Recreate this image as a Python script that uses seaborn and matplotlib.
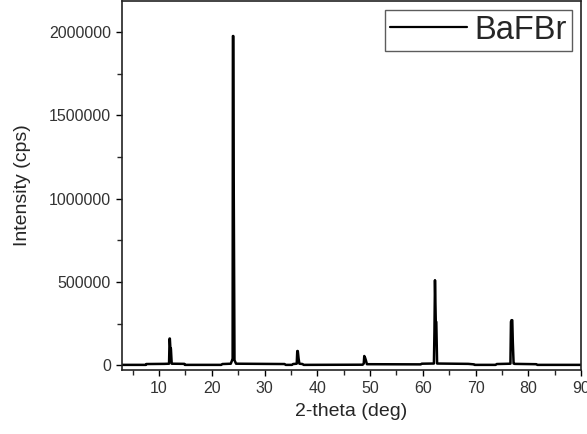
import matplotlib
matplotlib.use("Agg")
import matplotlib.pyplot as plt
import numpy as np
import pandas as pd
import seaborn as sns
from matplotlib.ticker import MultipleLocator

# XRD pattern (2-theta in deg, intensity in cps)
two_theta = [
    3.0, 7.5, 7.6, 11.0, 11.9, 12.0, 12.05, 12.15, 12.25, 12.4, 14.8, 14.9,
    21.8, 22.0, 23.6, 23.85, 23.95, 24.0, 24.08, 24.15, 24.3, 24.6, 33.8, 34.0,
    35.2, 35.4, 36.1, 36.2, 36.3, 36.45, 36.6, 37.2, 37.4, 48.6, 48.8, 48.9,
    49.05, 49.2, 49.4, 59.6, 59.8, 62.1, 62.2, 62.3, 62.45, 62.55, 62.7, 68.6,
    69.7, 69.8, 73.8, 74.0, 76.6, 76.7, 76.8, 76.95, 77.05, 77.2, 77.4, 81.5,
    81.7, 90.0,
]
intensity = [
    2000, 2000, 7000, 8000, 9000, 160000, 160000, 100000, 100000, 9000, 8000, 2000,
    2000, 7000, 9000, 30000, 40000, 1975000, 1975000, 1120000, 30000, 9000, 7000, 2000,
    2000, 7000, 9000, 85000, 85000, 40000, 9000, 7000, 2000, 3000, 10000, 55000,
    45000, 30000, 6000, 5000, 9000, 10000, 200000, 510000, 260000, 260000, 10000, 8000,
    5000, 2000, 2000, 7000, 9000, 260000, 270000, 270000, 140000, 10000, 8000, 6000,
    2000, 2000,
]

df = pd.DataFrame({"2-theta (deg)": two_theta, "Intensity (cps)": intensity})

sns.set_style("ticks")
plt.rcParams["font.family"] = ["Liberation Sans", "DejaVu Sans"]

fig = plt.figure(figsize=(5.87, 4.34), dpi=100)
ax = fig.add_axes([0.208, 0.147, 0.782, 0.851])

sns.lineplot(
    data=df, x="2-theta (deg)", y="Intensity (cps)", sort=False, estimator=None,
    color="black", linewidth=1.8, label="BaFBr", ax=ax,
)

ax.set_xlim(3, 90)
ax.set_ylim(-30000, 2186000)
ax.xaxis.set_major_locator(MultipleLocator(10))
ax.xaxis.set_minor_locator(MultipleLocator(5))
ax.yaxis.set_major_locator(MultipleLocator(500000))
ax.yaxis.set_minor_locator(MultipleLocator(250000))
ax.ticklabel_format(axis="y", style="plain")
ax.tick_params(which="major", length=4, width=1, labelsize=11.5, colors="black",
               labelcolor="#333333", pad=4)
ax.tick_params(which="minor", length=3.5, width=1)
for s in ax.spines.values():
    s.set_visible(True)
    s.set_linewidth(1.2)
    s.set_color("#222222")
ax.set_xlabel("2-theta (deg)", fontsize=14, labelpad=5)
ax.set_ylabel("Intensity (cps)", fontsize=14, labelpad=13)

leg = ax.legend(loc="upper right", fontsize=23.5, frameon=True, fancybox=False,
                handlelength=2.35, handletextpad=0.25, borderpad=0.15,
                borderaxespad=0.28)
leg.get_frame().set_edgecolor("#333333")
leg.get_frame().set_linewidth(1.0)
for line in leg.get_lines():
    line.set_linewidth(1.6)

fig.savefig("out.png", dpi=100)
